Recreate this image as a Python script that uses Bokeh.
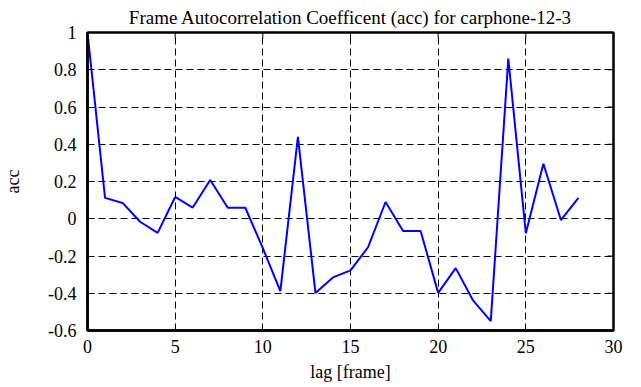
import math
from bokeh.plotting import figure
from bokeh.models import Range1d, FixedTicker
from bokeh.embed import file_html
from bokeh.resources import INLINE

lags = list(range(29))
acc = [1.0, 0.112, 0.085, -0.016, -0.076, 0.117, 0.06, 0.208, 0.059, 0.059,
       -0.158, -0.389, 0.44, -0.398, -0.315, -0.277, -0.153, 0.09, -0.066, -0.066,
       -0.398, -0.265, -0.44, -0.55, 0.86, -0.078, 0.295, -0.007, 0.112]
x_ticks = [0, 5, 10, 15, 20, 25, 30]
y_ticks = [-0.6, -0.4, -0.2, 0, 0.2, 0.4, 0.6, 0.8, 1.0]
y_labels = {-0.6: "-0.6", -0.4: "-0.4", -0.2: "-0.2", 0: "0", 0.2: "0.2",
            0.4: "0.4", 0.6: "0.6", 0.8: "0.8", 1.0: "1"}
x_min, x_max = 0, 30
y_min, y_max = -0.6, 1.0

FONT = "Liberation Serif"

p = figure(width=641, height=387, output_backend="svg", toolbar_location=None,
           x_range=Range1d(x_min, x_max), y_range=Range1d(y_min, y_max),
           title="Frame Autocorrelation Coefficent (acc) for carphone-12-3",
           min_border_left=86, min_border_right=28, min_border_top=31,
           min_border_bottom=57)

p.title.align = "center"
p.title.text_font = FONT
p.title.text_font_size = "19px"
p.title.text_font_style = "normal"
p.title.text_color = "black"
p.title.standoff = 9

p.outline_line_color = "black"
p.outline_line_width = 2.5
p.background_fill_color = "white"
p.border_fill_color = "white"

for ax in (p.xaxis[0], p.yaxis[0]):
    ax.major_tick_in = 6
    ax.major_tick_out = 0
    ax.minor_tick_line_color = None
    ax.axis_line_width = 2.5
    ax.axis_line_color = "black"
    ax.major_tick_line_color = "black"
    ax.major_tick_line_width = 1
    ax.major_label_text_font = FONT
    ax.major_label_text_font_size = "18px"
    ax.major_label_text_color = "black"
    ax.axis_label_text_font = FONT
    ax.axis_label_text_font_size = "18px"
    ax.axis_label_text_font_style = "normal"
    ax.axis_label_text_color = "black"

p.xaxis[0].ticker = FixedTicker(ticks=x_ticks)
p.yaxis[0].ticker = FixedTicker(ticks=y_ticks)
p.yaxis[0].major_label_overrides = y_labels
p.xaxis[0].axis_label = "lag [frame]"
p.yaxis[0].axis_label = "acc"
p.xaxis[0].major_label_standoff = 9
p.yaxis[0].major_label_standoff = 11
p.xaxis[0].axis_label_standoff = 6
p.yaxis[0].axis_label_standoff = 22

# mirrored inward ticks on top and right edges
p.ray(x=x_ticks, y=[y_max] * len(x_ticks), length=6, length_units="screen",
      angle=-math.pi / 2, line_color="black", line_width=1)
p.ray(x=[x_max] * len(y_ticks), y=y_ticks, length=6, length_units="screen",
      angle=math.pi, line_color="black", line_width=1)

p.xgrid.ticker = FixedTicker(ticks=x_ticks)
p.ygrid.ticker = FixedTicker(ticks=y_ticks)
for g in (p.xgrid[0], p.ygrid[0]):
    g.grid_line_color = "black"
    g.grid_line_dash = "7 4"
    g.grid_line_width = 1

p.line(lags, acc, line_color="#0000ff", line_width=2)

open("out.html", "w").write(file_html(p, INLINE))
